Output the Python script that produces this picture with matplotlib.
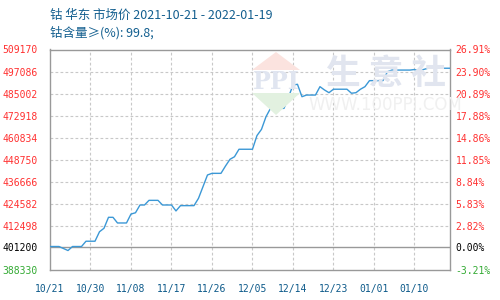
import matplotlib
matplotlib.use('Agg')
import matplotlib.pyplot as plt
from matplotlib.patches import Polygon
import pandas as pd

plt.rcParams['font.family'] = ['Noto Sans CJK SC', 'DejaVu Sans']

# cobalt, East China market price (yuan/ton)
dates = ['2021-10-21', '2021-10-23', '2021-10-25', '2021-10-26', '2021-10-28',
         '2021-10-29', '2021-10-31', '2021-11-01', '2021-11-02', '2021-11-03',
         '2021-11-04', '2021-11-05', '2021-11-07', '2021-11-08', '2021-11-09',
         '2021-11-10', '2021-11-11', '2021-11-12', '2021-11-14', '2021-11-15',
         '2021-11-17', '2021-11-18', '2021-11-19', '2021-11-22', '2021-11-23',
         '2021-11-24', '2021-11-25', '2021-11-26', '2021-11-28', '2021-11-29',
         '2021-11-30', '2021-12-01', '2021-12-02', '2021-12-05', '2021-12-06',
         '2021-12-07', '2021-12-08', '2021-12-09', '2021-12-12', '2021-12-13',
         '2021-12-14', '2021-12-15', '2021-12-16', '2021-12-17', '2021-12-19',
         '2021-12-20', '2021-12-21', '2021-12-22', '2021-12-23', '2021-12-26',
         '2021-12-27', '2021-12-28', '2021-12-29', '2021-12-30', '2021-12-31',
         '2022-01-03', '2022-01-04', '2022-01-05', '2022-01-09', '2022-01-10',
         '2022-01-11', '2022-01-12', '2022-01-13', '2022-01-19']
prices = [401200, 401200, 399000, 401200, 401200,
          404100, 404100, 409300, 411200, 417200,
          417200, 414100, 414100, 419000, 419700,
          423950, 423950, 426500, 426500, 423950,
          423950, 420700, 423600, 423600, 427600,
          433980, 440400, 441300, 441300, 445300,
          449000, 450400, 454500, 454500, 462000,
          465400, 472300, 476900, 476900, 482970,
          489700, 490100, 483300, 484200, 484200,
          488800, 487000, 485500, 487400, 487400,
          485200, 485500, 487400, 488800, 492100,
          492100, 497000, 497900, 497900, 498200,
          497400, 498200, 498900, 498900]

base = 401200
yticks = [388330, 401200, 412498, 424582, 436666, 448750, 460834, 472918, 485002, 497086, 509170]
xtick_labels = ['10/21', '10/30', '11/08', '11/17', '11/26', '12/05', '12/14', '12/23', '01/01', '01/10']

x = pd.to_datetime(dates)
start = x[0]

fig = plt.figure(figsize=(5, 3), dpi=100)
ax = fig.add_axes([0.1, 0.1, 0.8, 0.735])

# watermark
def px(xp, yp):
    return (xp / 500, 1 - yp / 300)
fig.patches.append(Polygon([px(252, 70), px(276, 52), px(300, 70)], closed=True,
                           transform=fig.transFigure, facecolor='#fbe3df', edgecolor='none', zorder=0))
fig.patches.append(Polygon([px(252, 93), px(276, 115), px(300, 93)], closed=True,
                           transform=fig.transFigure, facecolor='#e2f1e0', edgecolor='none', zorder=0))
fig.text(276 / 500, 1 - 82 / 300, 'PPI', color='#e0e5f0', fontsize=17, fontweight='bold',
         family='DejaVu Serif', ha='center', va='center', zorder=0)
fig.text(386 / 500, 1 - 73 / 300, '生 意 社', color='#e1e5ef', fontsize=25, fontweight='bold',
         ha='center', va='center', zorder=0)
fig.text(385 / 500, 1 - 105 / 300, 'WWW.100PPI.COM', color='#f0f0f0', fontsize=12,
         family='DejaVu Sans', ha='center', va='center', zorder=0)
ax.set_facecolor('none')

ax.plot(x, prices, color='#3b98d6', linewidth=1, zorder=3)

ax.set_ylim(yticks[0], yticks[-1])
ax.set_xlim(start, start + pd.Timedelta(days=88.9))

ax.set_yticks(yticks)
ax.set_yticklabels([str(v) for v in yticks], family='DejaVu Sans Mono', fontsize=7)
for lab, v in zip(ax.get_yticklabels(), yticks):
    lab.set_color('#ff3030' if v > base else ('black' if v == base else '#33aa33'))

xt = [start + pd.Timedelta(days=9 * i) for i in range(len(xtick_labels))]
ax.set_xticks(xt)
ax.set_xticklabels(xtick_labels, family='DejaVu Sans Mono', fontsize=7, color='#0d5a8a')

ax.tick_params(axis='y', length=0, pad=9)
ax.tick_params(axis='x', length=0, pad=10)

for v in yticks[2:-1]:
    ax.axhline(v, color='#c8c8c8', linestyle=(0, (2.5, 2)), linewidth=0.8, zorder=1)
for t in xt[1:]:
    ax.axvline(t, color='#c8c8c8', linestyle=(0, (2.5, 2)), linewidth=0.8, zorder=1)
ax.axhline(base, color='#999999', linewidth=1, zorder=2)

for s in ax.spines.values():
    s.set_color('#999999')
    s.set_linewidth(1)

ax2 = ax.twinx()
ax2.set_ylim(ax.get_ylim())
ax2.set_yticks(yticks)
pct = [(v - base) / base * 100 for v in yticks]
ax2.set_yticklabels(['%.2f%%' % p for p in pct], family='DejaVu Sans Mono', fontsize=7)
for lab, p in zip(ax2.get_yticklabels(), pct):
    lab.set_color('#ff3030' if p > 0.001 else ('black' if abs(p) < 0.001 else '#33aa33'))
ax2.tick_params(axis='y', length=0, pad=4)
for s in ax2.spines.values():
    s.set_visible(False)

fig.text(50 / 500, 1 - 15 / 300, '钴 华东 市场价 2021-10-21 - 2022-01-19', color='#135f8f',
         fontsize=9, ha='left', va='center')
fig.text(50 / 500, 1 - 33 / 300, '钴含量≥(%): 99.8;', color='#135f8f',
         fontsize=9, ha='left', va='center')

fig.savefig('out.png', dpi=100)
